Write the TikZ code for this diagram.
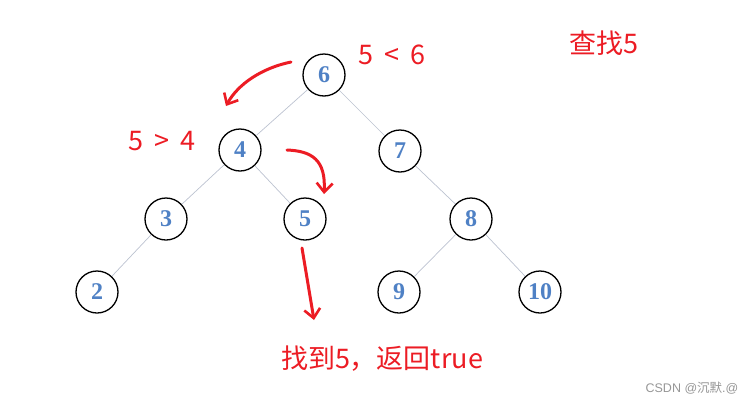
\documentclass[tikz,border=0pt]{standalone}
\usepackage{fontspec}
\setmainfont{Liberation Serif}
\newfontfamily\cjkfont{Noto Sans CJK SC}
\usetikzlibrary{arrows.meta}
\definecolor{keyblue}{RGB}{79, 129, 197}
\definecolor{treeedge}{RGB}{188, 194, 208}
\definecolor{markred}{RGB}{236, 28, 36}
\definecolor{wmgray}{RGB}{150, 150, 150}
\tikzset{
  % tree nodes
  bst/.style={
    circle, draw=black, fill=white, line width=1.3pt,
    minimum size=42pt, inner sep=0pt,
    text=keyblue, font=\fontsize{24}{26}\selectfont\bfseries
  },
  % thin tree edges
  bst edge/.style={color=treeedge, line width=0.7pt},
  %
  % red hand-written notes
  note/.style={text=markred, font=\cjkfont\fontsize{27}{30}\selectfont, inner sep=0pt},
  % red hand-drawn search arrows
  search arrow/.style={
    -{Straight Barb[length=9pt, width=16pt, line width=2.6pt]},
    color=markred, line width=3pt, line cap=round, line join=round
  },
}

\begin{document}
\begin{tikzpicture}[x=1pt, y=-1pt]
  \useasboundingbox (0,0) rectangle (756,405);

  %% ── Tree nodes ───────────────────────────────────────────────────
  \node[bst] (n6)  at (324,  75) {6};
  \node[bst] (n4)  at (240, 150) {4};
  \node[bst] (n7)  at (400, 151) {7};
  \node[bst] (n3)  at (166, 219) {3};
  \node[bst] (n5)  at (305, 219) {5};
  \node[bst] (n8)  at (471, 219) {8};
  \node[bst] (n2)  at ( 97, 292) {2};
  \node[bst] (n9)  at (399, 292) {9};
  \node[bst] (n10) at (540, 292) {10};

  %% ── Tree edges ───────────────────────────────────────────────────
  \draw[bst edge] (n6) -- (n4);
  \draw[bst edge] (n6) -- (n7);
  \draw[bst edge] (n4) -- (n3);
  \draw[bst edge] (n4) -- (n5);
  \draw[bst edge] (n3) -- (n2);
  \draw[bst edge] (n7) -- (n8);
  \draw[bst edge] (n8) -- (n9);
  \draw[bst edge] (n8) -- (n10);

  %% ── Notes ────────────────────────────────────────────────────────
  \node[note] (title) at (604,  43) {查找5};
  \node[note] (cmp1)  at (392,  55) {5 \,<\, 6};
  \node[note] (cmp2)  at (162, 141) {5 \,>\, 4};
  \node[note] (found) at (382, 359) {找到5，返回true};
  \node[text=wmgray, font=\fontsize{12.5}{14}\selectfont, inner sep=0pt]
    (mark) at (692, 388) {\fontspec{Liberation Sans}CSDN @{\cjkfont 沉默}.@};

  %% ── Search arrows ────────────────────────────────────────────────
  \coordinate (a1s) at (291,  62);
  \coordinate (a1e) at (226, 106);
  \coordinate (a2s) at (287, 150);
  \coordinate (a2e) at (324, 194);
  \coordinate (a3s) at (302, 248);
  \coordinate (a3e) at (314, 320);

  \draw[search arrow] (a1s) .. controls (262,68) and (238,84) .. (a1e);
  \draw[search arrow] (a2s) .. controls (312,151) and (326,160) .. (a2e);
  \draw[search arrow] (a3s) -- (a3e);

\end{tikzpicture}
\end{document}
